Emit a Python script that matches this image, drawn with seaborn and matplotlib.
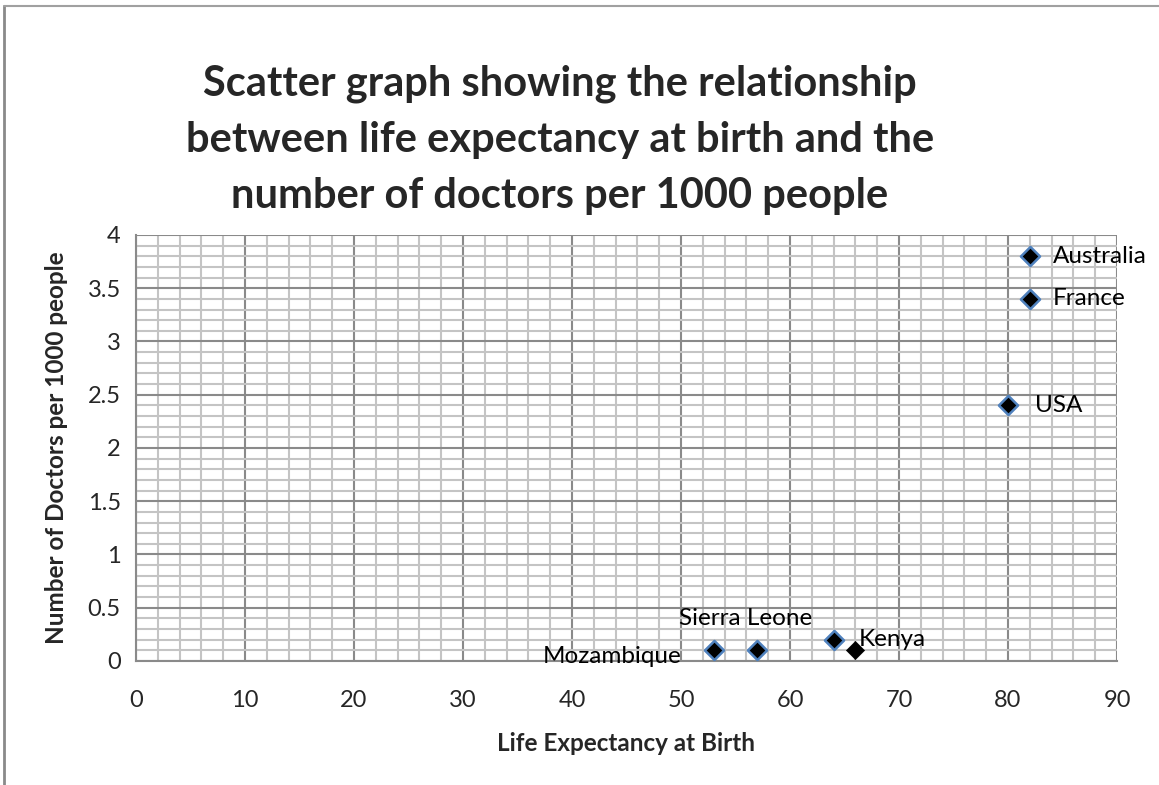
import numpy as np
import pandas as pd
import matplotlib
matplotlib.use("Agg")
import matplotlib.pyplot as plt
from matplotlib.ticker import MultipleLocator, FuncFormatter
import seaborn as sns

sns.set_style("white")
plt.rcParams["font.family"] = ["Lato", "DejaVu Sans"]

# dados
paises = ["Mozambique", "Sierra Leone", "Kenya", "", "USA", "France", "Australia"]
expectativa = [53, 57, 64, 66, 80, 82, 82]
medicos = [0.1, 0.1, 0.2, 0.1, 2.4, 3.4, 3.8]
serie = ["A", "A", "A", "B", "A", "A", "A"]

df = pd.DataFrame({"pais": paises, "vida": expectativa, "medicos": medicos, "serie": serie})

fig = plt.figure(figsize=(11.59, 7.85), dpi=100)
ax = fig.add_axes([0.1173, 0.158, 0.8465, 0.5427])

# pontos
sns.scatterplot(data=df[df["serie"] == "A"], x="vida", y="medicos", ax=ax,
                marker="D", s=95, color="black", edgecolor="#4f81bd", linewidth=1.8,
                zorder=3, clip_on=False)
sns.scatterplot(data=df[df["serie"] == "B"], x="vida", y="medicos", ax=ax,
                marker="D", s=85, color="black", edgecolor="black", linewidth=0.5,
                zorder=3, clip_on=False)

# grade
ax.set_xlim(0, 90)
ax.set_ylim(0, 4)
ax.xaxis.set_major_locator(MultipleLocator(10))
ax.xaxis.set_minor_locator(MultipleLocator(2))
ax.yaxis.set_major_locator(MultipleLocator(0.5))
ax.yaxis.set_minor_locator(MultipleLocator(0.1))
ax.xaxis.set_major_formatter(FuncFormatter(lambda v, p: f"{v:g}"))
ax.yaxis.set_major_formatter(FuncFormatter(lambda v, p: f"{v:g}"))
ax.grid(which="minor", color="#c4c4c4", linewidth=1.5)
ax.grid(which="major", color="#8a8a8a", linewidth=1.5)
ax.set_axisbelow(True)

# rótulos
offsets = {
    "Mozambique": (-32, -6, "right"),
    "Sierra Leone": (-12, 32, "center"),
    "Kenya": (25, 0, "left"),
    "USA": (27, 0, "left"),
    "France": (23, 0, "left"),
    "Australia": (23, 0, "left"),
}
for _, r in df.iterrows():
    if r["pais"] in offsets:
        dx, dy, ha = offsets[r["pais"]]
        ax.annotate(r["pais"], (r["vida"], r["medicos"]), xytext=(dx, dy), textcoords="offset pixels",
                    ha=ha, va="center", fontsize=17.5, color="black", zorder=4)

for s in ["top", "right"]:
    ax.spines[s].set_visible(False)
for s in ["left", "bottom"]:
    ax.spines[s].set_color("#8a8a8a")
    ax.spines[s].set_linewidth(1.5)

ax.tick_params(which="major", axis="both", direction="out", length=7, width=1.5,
               color="#8a8a8a", labelsize=17, pad=4)
ax.tick_params(which="minor", axis="x", direction="out", length=5, width=1.2, color="#8a8a8a")
ax.tick_params(which="minor", axis="y", length=0)
ax.tick_params(axis="x", pad=14)

ax.set_xlabel("Life Expectancy at Birth", fontsize=17.5, fontweight="bold", labelpad=15)
ax.set_ylabel("Number of Doctors per 1000 people", fontsize=17.5, fontweight="bold", labelpad=14)

fig.text(0.483, 0.8215, "Scatter graph showing the relationship\nbetween life expectancy at birth and the\nnumber of doctors per 1000 people",
         ha="center", va="center", fontsize=30, fontweight="bold", linespacing=1.58)

# borda externa
fig.add_artist(plt.Line2D([0.0035, 0.0035], [0, 0.992], transform=fig.transFigure, color="#8a8a8a", linewidth=2))
fig.add_artist(plt.Line2D([0.0035, 1], [0.992, 0.992], transform=fig.transFigure, color="#a0a0a0", linewidth=1.5))

fig.savefig("out.png", dpi=100)
